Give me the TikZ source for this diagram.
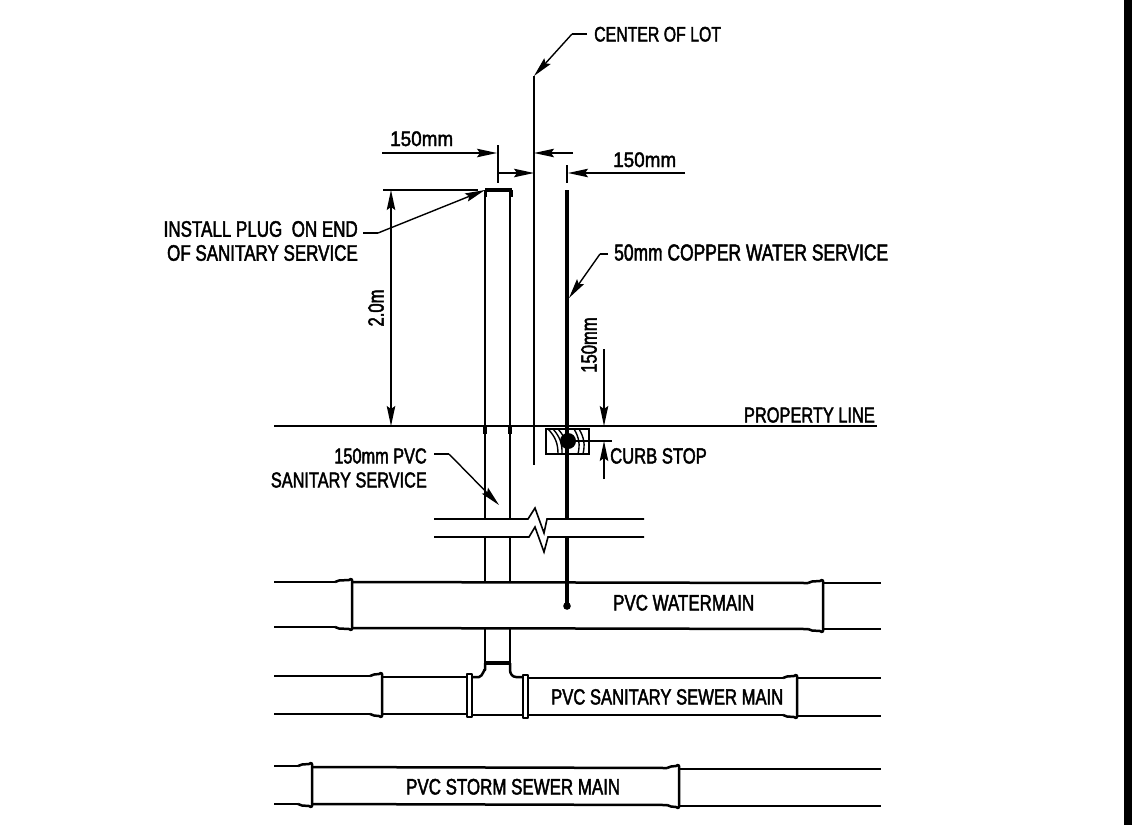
\documentclass[tikz,border=0pt]{standalone}
\usepackage{fontspec}
\setmainfont[FakeStretch=0.755,FakeBold=2]{Liberation Sans}
\newfontfamily\dimfont[FakeStretch=0.9,FakeBold=2]{Liberation Sans}
\usetikzlibrary{arrows.meta}
\tikzset{
  pipe/.style={line width=2.5pt,line join=round},
  heavy/.style={line width=4.4pt},
  thin line/.style={line width=1.4pt},
  dimen/.style={thin line,-{Stealth[length=20pt,width=8.5pt,inset=3pt]}},
  dimen both/.style={thin line,{Stealth[length=20pt,width=8.5pt,inset=3pt]}-{Stealth[length=20pt,width=8.5pt,inset=3pt]}},
  label/.style={inner sep=0pt,font=\fontsize{#1}{24}\selectfont,align=right},
  label/.default=22,
  dimlabel/.style={inner sep=0pt,font=\dimfont\fontsize{21}{24}\selectfont}
}
\newcommand{\pipebell}[4]{
  \draw[pipe] (#1,#3) -- ++(4,-1.5) -- (#2-3,#3-2) -- (#2-1,#3-3) -- (#2,#3-2) -- (#2,#4+2) -- (#2-1,#4+3) -- (#2-3,#4+2) -- (#1+4,#4+1.5) -- (#1,#4);
}
\newcommand{\pipecollar}[3]{
  \draw[pipe] (#1,#2) rectangle (#1+5,#3);
}
\begin{document}
\begin{tikzpicture}[x=1pt,y=-1pt]
  \useasboundingbox (0,0) rectangle (1143,825);
  \fill (1124,0) rectangle (1132,825);
  \draw
    (594,41.5) node[label=21,anchor=base west] (lot){CENTER OF LOT}
    (390,146) node[dimlabel,anchor=base west] (leftdim){150mm}
    (613,167) node[dimlabel,anchor=base west] (rightdim){150mm}
    (358,241) node[label=22.5,anchor=east] (plug){INSTALL PLUG\ \ ON END\\OF SANITARY SERVICE}
    (614,260.5) node[label=23.1,anchor=base west] (copper){50mm COPPER WATER SERVICE}
    (376,308) node[label,rotate=90] (height){2.0m}
    (589,345) node[label,rotate=90] (curbdim){150mm}
    (875,422.5) node[label=21.7,anchor=base east] (property){PROPERTY LINE}
    (610,463.5) node[label,anchor=base west] (curb){CURB STOP}
    (427,468) node[label=21.6,anchor=east] (sanitary){150mm PVC\\SANITARY SERVICE}
    (613,610.5) node[label=22.4,anchor=base west] (water){PVC WATERMAIN}
    (551,704.5) node[label,anchor=base west] (sewer){PVC SANITARY SEWER MAIN}
    (406,794.5) node[label=22.4,anchor=base west] (storm){PVC STORM SEWER MAIN};
  \coordinate (lotbend) at (572,34);
  \coordinate (lotstub) at (587,34);
  \coordinate (lottop) at (534,76);
  \coordinate (lotend) at (534,465);
  \coordinate (plugstub) at (363,233);
  \coordinate (plugbend) at (378,233);
  \coordinate (plugtip) at (485,190);
  \coordinate (copperstub) at (608,254);
  \coordinate (copperbend) at (600,254);
  \coordinate (coppertip) at (569,298);
  \coordinate (sanstub) at (434,454);
  \coordinate (sanbend) at (449,454);
  \coordinate (santip) at (499,505);
  \draw[pipe] (lottop) -- (lotend);
  \draw[thin line] (lotstub) -- (lotbend);
  \draw[dimen] (lotbend) -- (lottop);
  \draw[thin line] (plugstub) -- (plugbend);
  \draw[dimen] (plugbend) -- (plugtip);
  \draw[thin line] (copperstub) -- (copperbend);
  \draw[dimen] (copperbend) -- (coppertip);
  \draw[thin line] (sanstub) -- (sanbend);
  \draw[dimen] (sanbend) -- (santip);
  \begin{scope}[thin line]
    \draw (383,190) -- (478,190);
    \draw (498,145) -- (498,183);
    \draw (567,165) -- (567,183);
    \draw (568,441) -- (612,441);
    \draw[dimen] (382,153) -- (497,153);
    \draw[dimen] (573,153) -- (534,153);
    \draw[dimen] (497,173) -- (534,173);
    \draw[dimen] (685,173) -- (568,173);
    \draw[dimen both] (391,190) -- (391,426);
    \draw[dimen] (604,349) -- (604,426);
    \draw[dimen] (604,479) -- (604,441);
  \end{scope}
  \begin{scope}[pipe]
    \draw (485,190) -- (485,519);
    \draw (510,190) -- (510,519);
    \draw (485,537) -- (485,582);
    \draw (510,537) -- (510,582);
    \draw (485,628) -- (485,663);
    \draw (510,628) -- (510,663);
    \draw[line width=2.8pt] (274,426) -- (877,426);
  \end{scope}
  \draw[line width=3.4pt] (485,427) -- (485,434);
  \draw[line width=3.4pt] (510,427) -- (510,434);
  \draw[line width=3pt] (485,190) -- (485,197);
  \draw[line width=3pt] (511,190) -- (511,197);
  \draw[heavy] (485,190) -- (512,190);
  \draw[heavy] (484,663) -- (511,663);
  \draw[heavy] (567,190) -- (567,519);
  \draw[heavy] (567,537) -- (567,605);
  \fill (567,606) circle (3.8);
  \draw[thin line] (546,429) rectangle (589,454);
  \foreach \topx/\botx in {548/558,553/562,558/567}
    \draw[thin line] (\topx,429) to[bend left=22] (\botx,454);
  \foreach \topx/\botx in {574/578,579/583}
    \draw[thin line] (\topx,429) to[bend left=22] (\botx,454);
  \fill (568,441) circle (8);
  \begin{scope}[line width=1.6pt]
    \draw (434,519) -- (528,519) -- (535,508) -- (544,533) -- (547,519) -- (644,519);
    \draw (434,537) -- (529,537) -- (535,527) -- (544,552) -- (548,537) -- (644,537);
  \end{scope}
  \begin{scope}[pipe]
    \draw (274,582) -- (335,582);
    \draw (274,627) -- (335,627);
    \pipebell{335}{352}{582}{627}
    \draw (352,582) -- (808,583);
    \draw (352,628) -- (808,629);
    \pipebell{808}{823}{583}{629}
    \draw (823,583) -- (881,583);
    \draw (823,629) -- (881,629);
    \draw (274,676) -- (370,676);
    \draw (274,714) -- (370,714);
    \pipebell{370}{382}{676}{714}
    \draw (382,677) -- (467,677);
    \draw (382,714) -- (467,714);
    \pipecollar{467}{674}{717}
    \draw (472,677) -- (479,677) to[out=0,in=90] (485,670) -- (485,663);
    \draw (510,663) -- (510,670) to[out=-90,in=180] (516,677) -- (523,677);
    \draw (472,715) -- (523,715);
    \pipecollar{523}{675}{718}
    \draw (528,678) -- (783,678);
    \draw (528,715) -- (783,715);
    \pipebell{783}{797}{678}{715}
    \draw (797,678) -- (881,678);
    \draw (797,716) -- (881,716);
    \draw (274,766) -- (298,766);
    \draw (274,804) -- (298,804);
    \pipebell{298}{312}{766}{804}
    \draw (312,767) -- (667,768);
    \draw (312,804) -- (667,805);
    \pipebell{667}{679}{768}{805}
    \draw (679,769) -- (881,769);
    \draw (679,806) -- (881,806);
  \end{scope}
\end{tikzpicture}
\end{document}
